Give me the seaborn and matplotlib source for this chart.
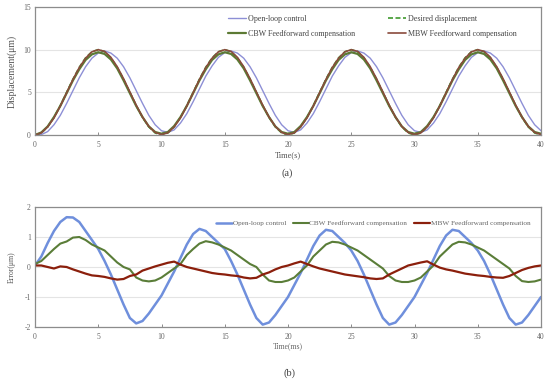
import numpy as np
import pandas as pd
import matplotlib
matplotlib.use("Agg")
import matplotlib.pyplot as plt
import seaborn as sns

# ---------------- data ----------------
time_a = [i * 0.5 for i in range(81)]

desired = [
    0.00, 0.24, 0.95, 2.06, 3.45, 5.00, 6.55, 7.94, 9.05, 9.76,
    10.00, 9.76, 9.05, 7.94, 6.55, 5.00, 3.45, 2.06, 0.95, 0.24,
    0.00, 0.24, 0.95, 2.06, 3.45, 5.00, 6.55, 7.94, 9.05, 9.76,
    10.00, 9.76, 9.05, 7.94, 6.55, 5.00, 3.45, 2.06, 0.95, 0.24,
    0.00, 0.24, 0.95, 2.06, 3.45, 5.00, 6.55, 7.94, 9.05, 9.76,
    10.00, 9.76, 9.05, 7.94, 6.55, 5.00, 3.45, 2.06, 0.95, 0.24,
    0.00, 0.24, 0.95, 2.06, 3.45, 5.00, 6.55, 7.94, 9.05, 9.76,
    10.00, 9.76, 9.05, 7.94, 6.55, 5.00, 3.45, 2.06, 0.95, 0.24,
    0.00]

open_loop_a = [
    0.00, 0.05, 0.40, 1.20, 2.30, 3.70, 5.20, 6.70, 8.00, 9.00,
    9.60, 9.85, 9.60, 9.00, 8.00, 6.70, 5.20, 3.70, 2.30, 1.20,
    0.50, 0.30, 0.60, 1.40, 2.50, 3.90, 5.40, 6.90, 8.10, 9.10,
    9.65, 9.85, 9.60, 9.00, 8.00, 6.70, 5.20, 3.70, 2.30, 1.20,
    0.50, 0.30, 0.60, 1.40, 2.50, 3.90, 5.40, 6.90, 8.10, 9.10,
    9.65, 9.85, 9.60, 9.00, 8.00, 6.70, 5.20, 3.70, 2.30, 1.20,
    0.50, 0.30, 0.60, 1.40, 2.50, 3.90, 5.40, 6.90, 8.10, 9.10,
    9.65, 9.85, 9.60, 9.00, 8.00, 6.70, 5.20, 3.70, 2.30, 1.20,
    0.50]

cbw_a = [
    0.00, 0.30, 1.00, 2.10, 3.40, 4.90, 6.40, 7.70, 8.80, 9.45,
    9.70, 9.50, 8.85, 7.80, 6.40, 4.90, 3.40, 2.10, 1.00, 0.35,
    0.15, 0.35, 1.05, 2.10, 3.40, 4.90, 6.40, 7.70, 8.80, 9.45,
    9.70, 9.50, 8.85, 7.80, 6.40, 4.90, 3.40, 2.10, 1.00, 0.35,
    0.15, 0.35, 1.05, 2.10, 3.40, 4.90, 6.40, 7.70, 8.80, 9.45,
    9.70, 9.50, 8.85, 7.80, 6.40, 4.90, 3.40, 2.10, 1.00, 0.35,
    0.15, 0.35, 1.05, 2.10, 3.40, 4.90, 6.40, 7.70, 8.80, 9.45,
    9.70, 9.50, 8.85, 7.80, 6.40, 4.90, 3.40, 2.10, 1.00, 0.35,
    0.15]

mbw_a = [
    0.00, 0.25, 0.95, 2.00, 3.40, 4.95, 6.50, 7.90, 9.00, 9.75,
    10.00, 9.80, 9.10, 8.00, 6.60, 5.05, 3.50, 2.10, 1.00, 0.30,
    0.05, 0.25, 0.95, 2.00, 3.40, 4.95, 6.50, 7.90, 9.00, 9.75,
    10.00, 9.80, 9.10, 8.00, 6.60, 5.05, 3.50, 2.10, 1.00, 0.30,
    0.05, 0.25, 0.95, 2.00, 3.40, 4.95, 6.50, 7.90, 9.00, 9.75,
    10.00, 9.80, 9.10, 8.00, 6.60, 5.05, 3.50, 2.10, 1.00, 0.30,
    0.05, 0.25, 0.95, 2.00, 3.40, 4.95, 6.50, 7.90, 9.00, 9.75,
    10.00, 9.80, 9.10, 8.00, 6.60, 5.05, 3.50, 2.10, 1.00, 0.30,
    0.05]

time_b = [i * 0.5 for i in range(81)]

open_loop_b = [
    0.05, 0.35, 0.80, 1.20, 1.50, 1.66, 1.65, 1.50, 1.20, 0.90,
    0.60, 0.20, -0.25, -0.75, -1.25, -1.70, -1.88, -1.80, -1.55, -1.25,
    -0.95, -0.55, -0.15, 0.30, 0.75, 1.10, 1.27, 1.20, 1.00, 0.80,
    0.60, 0.20, -0.25, -0.75, -1.25, -1.70, -1.92, -1.85, -1.60, -1.30,
    -1.00, -0.60, -0.20, 0.25, 0.70, 1.05, 1.24, 1.20, 1.00, 0.80,
    0.55, 0.20, -0.25, -0.75, -1.25, -1.70, -1.92, -1.85, -1.60, -1.30,
    -1.00, -0.60, -0.20, 0.25, 0.70, 1.05, 1.24, 1.20, 1.00, 0.80,
    0.55, 0.20, -0.25, -0.75, -1.25, -1.70, -1.92, -1.85, -1.60, -1.30,
    -1.00]

cbw_b = [
    0.10, 0.20, 0.40, 0.60, 0.78, 0.85, 0.98, 1.00, 0.90, 0.75,
    0.65, 0.55, 0.35, 0.15, 0.00, -0.08, -0.35, -0.45, -0.48, -0.45,
    -0.35, -0.20, -0.05, 0.10, 0.40, 0.60, 0.78, 0.86, 0.82, 0.75,
    0.65, 0.55, 0.40, 0.25, 0.10, 0.00, -0.25, -0.45, -0.50, -0.50,
    -0.45, -0.35, -0.15, 0.05, 0.35, 0.55, 0.75, 0.84, 0.82, 0.75,
    0.65, 0.55, 0.40, 0.25, 0.10, -0.05, -0.30, -0.45, -0.50, -0.50,
    -0.45, -0.35, -0.15, 0.05, 0.35, 0.55, 0.75, 0.84, 0.82, 0.75,
    0.65, 0.55, 0.40, 0.25, 0.10, -0.05, -0.30, -0.47, -0.50, -0.48,
    -0.42]

mbw_b = [
    0.05, 0.05, 0.00, -0.05, 0.02, 0.00, -0.08, -0.15, -0.22, -0.28,
    -0.30, -0.33, -0.38, -0.42, -0.40, -0.30, -0.25, -0.12, -0.05, 0.02,
    0.08, 0.14, 0.18, 0.08, 0.00, -0.05, -0.10, -0.15, -0.20, -0.23,
    -0.25, -0.28, -0.30, -0.35, -0.38, -0.36, -0.25, -0.18, -0.08, 0.00,
    0.05, 0.12, 0.18, 0.10, 0.02, -0.05, -0.10, -0.15, -0.20, -0.25,
    -0.28, -0.31, -0.34, -0.38, -0.40, -0.38, -0.25, -0.15, -0.05, 0.05,
    0.10, 0.15, 0.19, 0.08, -0.02, -0.08, -0.12, -0.17, -0.22, -0.25,
    -0.28, -0.30, -0.33, -0.35, -0.36, -0.30, -0.20, -0.10, -0.03, 0.02,
    0.05]

labels_a = ["Open-loop control", "CBW Feedforward compensation",
            "Desired displacement", "MBW Feedforward compensation"]
labels_b = ["Open-loop control", "CBW Feedforward compensation",
            "MBW Feedforward compensation"]
xticks = [0, 5, 10, 15, 20, 25, 30, 35, 40]
yticks_a = [0, 5, 10, 15]
yticks_b = [-2, -1, 0, 1, 2]

# ---------------- style ----------------
sns.set_theme(style="white")
plt.rcParams["font.family"] = ["Liberation Serif", "DejaVu Serif"]

W, H = 550, 383
fig = plt.figure(figsize=(W / 100, H / 100), dpi=100)

def box(l, t, r, b):
    return [l / W, 1 - b / H, (r - l) / W, (b - t) / H]

ax1 = fig.add_axes(box(35, 7, 541, 135))
ax2 = fig.add_axes(box(35, 207, 541, 327))

c_open_a = "#8d8fd6"
c_des = "#3f9a2e"
c_cbw_a = "#5c7a34"
c_mbw_a = "#8a4a3c"

sns.lineplot(x=time_a, y=open_loop_a, ax=ax1, color=c_open_a, lw=1.0, label=labels_a[0])
sns.lineplot(x=time_a, y=cbw_a, ax=ax1, color=c_cbw_a, lw=1.6, label=labels_a[1])
sns.lineplot(x=time_a, y=desired, ax=ax1, color=c_des, lw=1.2, label=labels_a[2],
             linestyle=(0, (3, 1.5)))
sns.lineplot(x=time_a, y=mbw_a, ax=ax1, color=c_mbw_a, lw=1.2, label=labels_a[3])

c_open_b = "#6f8fdc"
c_cbw_b = "#5a7d38"
c_mbw_b = "#8b1f0c"
sns.lineplot(x=time_b, y=open_loop_b, ax=ax2, color=c_open_b, lw=1.8, label=labels_b[0])
sns.lineplot(x=time_b, y=cbw_b, ax=ax2, color=c_cbw_b, lw=1.5, label=labels_b[1])
sns.lineplot(x=time_b, y=mbw_b, ax=ax2, color=c_mbw_b, lw=1.6, label=labels_b[2])

for ax, yt in ((ax1, yticks_a), (ax2, yticks_b)):
    ax.set_xlim(0, 40)
    ax.set_ylim(yt[0], yt[-1])
    ax.set_xticks(xticks)
    ax.set_yticks(yt)
    ax.set_xticklabels([str(v) for v in xticks])
    ax.set_yticklabels([str(v) for v in yt])
    ax.grid(axis="y", color="#e4e4e4", lw=0.8)
    ax.set_axisbelow(True)
    for s in ax.spines.values():
        s.set_color("#8c8c8c")
        s.set_linewidth(0.9)
    ax.tick_params(axis="x", direction="in", length=2.5, width=0.6, color="#777777",
                   labelsize=5.5, labelcolor="#666666", pad=4, bottom=True)
    ax.tick_params(axis="y", length=0, labelsize=5.5, labelcolor="#666666", pad=3)
    ax.set_xlabel("")
    ax.set_ylabel("")

ax1.set_ylabel("Displacement(μm)", fontsize=7, color="#555555", labelpad=5)
ax2.set_ylabel("Error(μm)", fontsize=5.5, color="#555555", labelpad=6)

h, l = ax1.get_legend_handles_labels()
ax1.legend(h, l, ncol=2, loc="upper left", bbox_to_anchor=(228 / W, 1 - 15 / H),
           bbox_transform=fig.transFigure, borderaxespad=0, borderpad=0,
           frameon=False, fontsize=5.8, handlelength=2.2, handletextpad=0.3,
           columnspacing=4.1, labelspacing=0.85, labelcolor="#444444")
h, l = ax2.get_legend_handles_labels()
ax2.legend(h, l, ncol=3, loc="upper left", bbox_to_anchor=(216 / W, 1 - 220 / H),
           bbox_transform=fig.transFigure, borderaxespad=0, borderpad=0,
           frameon=False, fontsize=5.2, handlelength=2.2, handletextpad=0.12,
           columnspacing=0.9, labelcolor="#666666")

fig.text(288 / W, 1 - 155 / H, "Time(s)", ha="center", va="center", fontsize=6, color="#555555")
fig.text(287 / W, 1 - 173 / H, "(a)", ha="center", va="center", fontsize=7.5, color="#444444")
fig.text(288 / W, 1 - 346 / H, "Time(ms)", ha="center", va="center", fontsize=5.5, color="#666666")
fig.text(290 / W, 1 - 373 / H, "(b)", ha="center", va="center", fontsize=7.5, color="#444444")

fig.savefig("out.png", dpi=100)
